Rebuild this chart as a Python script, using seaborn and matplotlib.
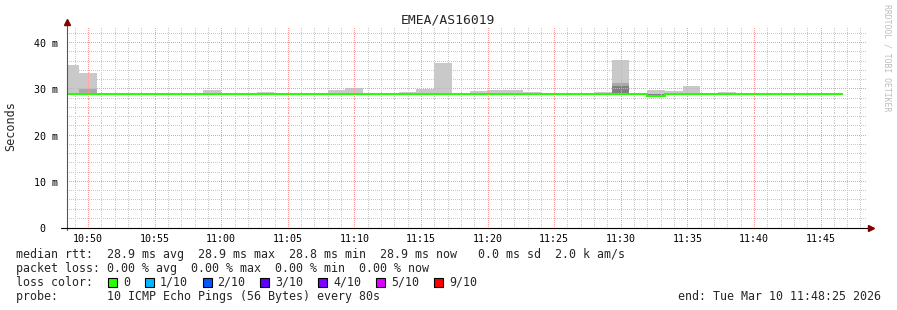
import numpy as np
import pandas as pd
import matplotlib
matplotlib.use("Agg")
import matplotlib.pyplot as plt
import matplotlib.dates as mdates
from matplotlib.patches import Rectangle
from matplotlib.ticker import MultipleLocator
from matplotlib.transforms import blended_transform_factory
import seaborn as sns

# ---------------- data ----------------
title = "EMEA/AS16019"
y_label = "Seconds"
first_step = "2026-03-10 10:47:59"
step_seconds = 80
view_start = "2026-03-10 10:48:25"
view_end = "2026-03-10 11:48:25"

# median RTT per 80 s step (ms)
median_ms = [28.9, 28.9, 28.9, 28.9, 28.9, 28.9, 28.9, 28.9, 28.9, 28.9,
             28.9, 28.9, 28.9, 28.9, 28.9, 28.9, 28.9, 28.9, 28.9, 28.9,
             28.9, 28.9, 28.9, 28.9, 28.9, 28.9, 28.9, 28.9, 28.9, 28.9,
             28.9, 28.9, 28.9, 28.5, 28.9, 28.9, 28.9, 28.9, 28.9, 28.9,
             28.9, 28.9, 28.9, 28.9]
# top of the light smoke (highest ping)
smoke_max_ms = [35.2, 33.5, 28.9, 28.9, 28.9, 28.9, 28.9, 28.9, 29.8, 28.9,
                28.9, 29.3, 28.9, 28.9, 28.9, 29.8, 30.3, 28.9, 28.9, 29.4,
                30.0, 35.7, 28.9, 29.7, 29.8, 29.8, 29.4, 28.9, 28.9, 28.9,
                29.4, 36.3, 28.9, 29.8, 29.6, 30.6, 28.9, 29.3, 28.9, 28.9,
                28.9, 28.9, 28.9, 28.9]
# top of the medium smoke
smoke_mid_ms = [28.9, 30.0, 28.9, 28.9, 28.9, 28.9, 28.9, 28.9, 28.9, 28.9,
                28.9, 28.9, 28.9, 28.9, 28.9, 29.2, 28.9, 28.9, 28.9, 28.9,
                28.9, 28.9, 28.9, 28.9, 28.9, 28.9, 28.9, 28.9, 28.9, 28.9,
                28.9, 31.4, 28.9, 28.9, 28.9, 28.9, 28.9, 28.9, 28.9, 28.9,
                28.9, 28.9, 28.9, 28.9]
# top of the dark smoke
smoke_dark_ms = [28.9, 28.9, 28.9, 28.9, 28.9, 28.9, 28.9, 28.9, 28.9, 28.9,
                 28.9, 28.9, 28.9, 28.9, 28.9, 28.9, 28.9, 28.9, 28.9, 28.9,
                 28.9, 28.9, 28.9, 28.9, 28.9, 28.9, 28.9, 28.9, 28.9, 28.9,
                 28.9, 30.6, 28.9, 28.9, 28.9, 28.9, 28.9, 28.9, 28.9, 28.9,
                 28.9, 28.9, 28.9, 28.9]

y_tick_values = [0, 10, 20, 30, 40]
y_tick_labels = [" 0  ", "10 m", "20 m", "30 m", "40 m"]

loss_labels = ["0", "1/10", "2/10", "3/10", "4/10", "5/10", "9/10"]
loss_colors = ["#26ff00", "#00b8ff", "#0059ff", "#5e00ff", "#7e00ff", "#dd00ff", "#ff0000"]

stats_rtt = "median rtt:  28.9 ms avg  28.9 ms max  28.8 ms min  28.9 ms now   0.0 ms sd  2.0 k am/s"
stats_loss = "packet loss: 0.00 % avg  0.00 % max  0.00 % min  0.00 % now"
loss_title = "loss color:"
probe_text = "probe:       10 ICMP Echo Pings (56 Bytes) every 80s"
end_text = "end: Tue Mar 10 11:48:25 2026"
watermark = "RRDTOOL / TOBI OETIKER"

# ---------------- style ----------------
sns.set_style("white")
MONO = ["DejaVu Sans Mono", "DejaVu Sans"]
plt.rcParams["font.family"] = MONO

W, H = 897, 310
AX_L, AX_B, AX_W, AX_H = 67, 82, 799, 201
fig = plt.figure(figsize=(W / 100, H / 100), dpi=100)
fig.patch.set_facecolor("white")


def fx(px):
    return px / W


def fy(py):
    return 1 - py / H


ax = fig.add_axes([fx(AX_L), AX_B / H, AX_W / W, AX_H / H])
ax.set_facecolor("white")

times = pd.date_range(first_step, periods=len(median_ms), freq=f"{step_seconds}s")
t_num = mdates.date2num(times.to_pydatetime())
step_days = step_seconds / 86400.0
edges = np.append(t_num, t_num[-1] + step_days)

med = np.array(median_ms)
smax = np.array(smoke_max_ms)
smid = np.array(smoke_mid_ms)
sdark = np.array(smoke_dark_ms)

# smoke layers
ax.bar(t_num, smax - med, bottom=med, width=step_days, align="edge",
       color="#c9c9c9", linewidth=0, zorder=1)
ax.bar(t_num, smid - med, bottom=med, width=step_days, align="edge",
       color="#a9a9a9", linewidth=0, zorder=1.1)
ax.bar(t_num, sdark - med, bottom=med, width=step_days, align="edge",
       color="#808080", linewidth=0, zorder=1.2)

# median line
line_df = pd.DataFrame({"t": edges, "median": np.append(med, med[-1])})
sns.lineplot(data=line_df, x="t", y="median", ax=ax, estimator=None, sort=False,
             drawstyle="steps-post", color=loss_colors[0], linewidth=1.44, zorder=3,
             antialiased=False)

x0 = mdates.date2num(pd.Timestamp(view_start).to_pydatetime())
x1 = mdates.date2num(pd.Timestamp(view_end).to_pydatetime())
ymax = 43.46
ax.set_xlim(x0, x1)
ax.set_ylim(0, ymax)

ax.xaxis.set_major_locator(mdates.MinuteLocator(byminute=range(0, 60, 5)))
ax.xaxis.set_minor_locator(mdates.MinuteLocator())
ax.xaxis.set_major_formatter(mdates.DateFormatter("%H:%M"))
ax.set_yticks(y_tick_values)
ax.set_yticklabels(y_tick_labels)
ax.yaxis.set_minor_locator(MultipleLocator(2))
ax.grid(False)

# dotted rrdtool-style grid (1 px on / 1 px off)
GRID_MINOR = "#c8c8c8"
GRID_MAJOR = "#ff9a9a"
trans_h = blended_transform_factory(ax.transAxes, ax.transData)
trans_v = blended_transform_factory(ax.transData, ax.transAxes)
dots_x = (np.arange(1, AX_W, 2) + 0.5) / AX_W
dots_y = (np.arange(1, AX_H, 2) + 0.5) / AX_H
for v in np.arange(2, ymax, 2):
    col = GRID_MAJOR if round(v) % 10 == 0 else GRID_MINOR
    ax.plot(dots_x, np.full_like(dots_x, v), linestyle="none", marker=",",
            color=col, transform=trans_h, zorder=1.5, clip_on=False)
major_locs = np.asarray(ax.xaxis.get_majorticklocs())
all_locs = np.concatenate([major_locs, np.asarray(ax.xaxis.get_minorticklocs())])
for t in all_locs:
    if t <= x0 or t >= x1:
        continue
    is_major = np.any(np.isclose(major_locs, t, rtol=0, atol=1e-7))
    col = GRID_MAJOR if is_major else GRID_MINOR
    ax.plot(np.full_like(dots_y, t), dots_y, linestyle="none", marker=",",
            color=col, transform=trans_v, zorder=1.5, clip_on=False)

ax.tick_params(axis="both", which="major", direction="out", length=2.5, width=0.7,
               color="#555555", labelsize=7.2, labelcolor="black")
ax.tick_params(axis="both", which="minor", direction="out", length=1.5, width=0.7,
               color="#888888")
ax.tick_params(axis="y", which="major", pad=4)
ax.tick_params(axis="x", which="major", pad=2)
for lab in ax.get_xticklabels() + ax.get_yticklabels():
    lab.set_family(MONO)

ax.set_xlabel("")
ax.set_ylabel("")
for s in ax.spines.values():
    s.set_visible(False)

# axis lines with arrows (rrdtool style)
ax.plot([0, 0], [-0.01, 1.02], transform=ax.transAxes, color="#555555",
        linewidth=0.8, clip_on=False, zorder=5)
ax.plot([-0.007, 1.004], [0, 0], transform=ax.transAxes, color="black",
        linewidth=0.8, clip_on=False, zorder=5)
ax.plot([0], [1.025], marker="^", markersize=4.5, color="#7f0000",
        transform=ax.transAxes, clip_on=False, zorder=6, linestyle="none")
ax.plot([1.006], [0], marker=">", markersize=4.5, color="#7f0000",
        transform=ax.transAxes, clip_on=False, zorder=6, linestyle="none")

# texts
fig.text(fx(448), fy(20), title, ha="center", va="center", fontsize=9.4, family=MONO)
fig.text(fx(11), fy(126), y_label, ha="center", va="center", rotation=90,
         fontsize=8.5, family=MONO)
fig.text(fx(887), fy(4), watermark, ha="center", va="top", rotation=270,
         fontsize=5.9, color="#bdbdbd", family=MONO)

fs = 8.4
fig.text(fx(16), fy(254.5), stats_rtt, ha="left", va="center", fontsize=fs, family=MONO)
fig.text(fx(16), fy(268.3), stats_loss, ha="left", va="center", fontsize=fs, family=MONO)
fig.text(fx(16), fy(282.3), loss_title, ha="left", va="center", fontsize=fs, family=MONO)
fig.text(fx(16), fy(296.3), probe_text, ha="left", va="center", fontsize=fs, family=MONO)
fig.text(fx(881), fy(296.3), end_text, ha="right", va="center", fontsize=fs, family=MONO)

x = 108.0
for lab, col in zip(loss_labels, loss_colors):
    fig.patches.append(Rectangle((fx(x), fy(287)), 9 / W, 9 / H, transform=fig.transFigure,
                                 facecolor=col, edgecolor="black", linewidth=0.8))
    fig.text(fx(x + 15), fy(282.3), lab, ha="left", va="center", fontsize=fs, family=MONO)
    x += 15 + len(lab) * 7.1 + 14.5

fig.savefig("out.png", dpi=100, facecolor="white")
